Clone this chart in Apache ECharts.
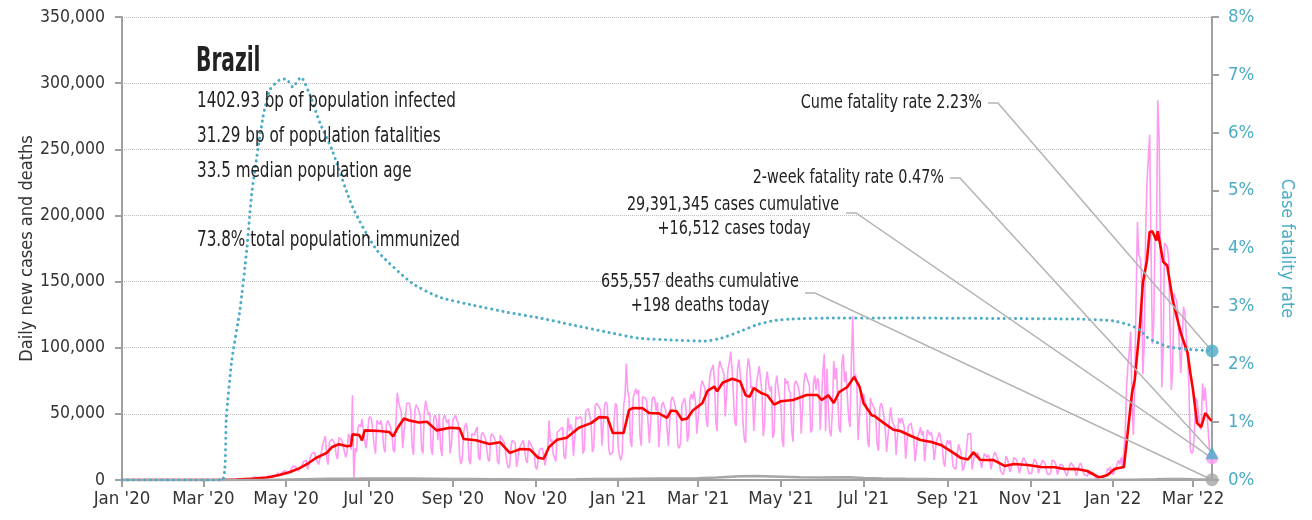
<!DOCTYPE html>
<html>
<head>
<meta charset="utf-8">
<script src="https://cdn.jsdelivr.net/npm/echarts@6/dist/echarts.min.js"></script>
<style>
  html, body { margin: 0; padding: 0; background: #fff; }
  #chart { width: 1312px; height: 520px; }
</style>
</head>
<body>
<div id="chart"></div>
<script>
// ---- Brazil COVID-19: daily cases, 7-day average, deaths and case fatality rate ----

const countryName = 'Brazil';
const statLines = [
  '1402.93 bp of population infected',
  '31.29 bp of population fatalities',
  '33.5 median population age',
  '',
  '73.8% total population immunized'
];

const axisStart = '2020-01-01';
const axisEnd = '2022-03-15';
const tickDates = ['2020-01-01','2020-03-01','2020-05-01','2020-07-01','2020-09-01','2020-11-01',
  '2021-01-01','2021-03-01','2021-05-01','2021-07-01','2021-09-01','2021-11-01','2022-01-01','2022-03-01'];
const monthNames = ['Jan','Feb','Mar','Apr','May','Jun','Jul','Aug','Sep','Oct','Nov','Dec'];

// Daily new cases, in thousands, one row per week (Sun..Sat) starting 2020-03-01
const dailyStart = '2020-03-01';
const dailyCasesK = [
  0.001,0,0,0.001,0.001,0.004,0.006,
  0.006,0.005,0.009,0.018,0.025,0.021,0.023,
  0.079,0.034,0.057,0.137,0.193,0.283,0.224,
  0.418,0.345,0.310,0.232,0.482,0.502,0.487,
  0.352,0.323,1.138,1.119,1.074,1.146,1.222,
  0.852,0.926,1.661,2.210,1.930,1.781,1.089,
  1.442,1.261,1.832,3.058,2.105,3.257,2.917,
  2.055,1.927,2.498,2.678,3.735,3.503,5.514,
  3.379,4.613,5.385,6.276,7.218,6.209,4.970,
  4.588,6.633,6.935,10.503,9.888,10.222,10.611,
  6.760,5.632,9.258,11.385,13.944,15.305,14.919,
  7.938,13.140,17.408,19.951,18.508,20.803,16.508,
  15.813,11.687,16.324,20.599,26.417,26.928,33.274,
  16.409,11.598,28.936,28.633,30.925,30.830,27.075,
  18.912,15.654,32.091,32.913,30.412,25.982,21.704,
  17.1,20.6,34.9,32.2,22.8,64.0,0.4,
  24,21,39,42,40,46,38,
  30,24,33,46,48,46,37,
  26,20,45,44,42,45,39,
  25,21,42,45,46,40,36,
  23,21,41,66,59,55,51,
  24,23,47,58,57,58,52,
  25,19,52,57,55,52,49,
  23,20,52,60,54,49,51,
  24,19,47,49,45,30,50,
  24,18,47,49,45,43,46,
  20,27,45,46,49,45,43,
  18,12,16,36,41,43,35,
  15,12,35,36,34,38,40,
  17,15,34,36,34,32,31,
  16,14,33,35,33,31,28,
  14,12,34,34,30,28,27,
  13,9,11,26,30,29,28,
  10,15,24,26,28,30,29,
  15,13,30,28,27,24,20,
  10,8,8,23,24,24,18,
  11,10,23,45,29,31,20,
  17,14,36,35,38,37,40,
  18,16,31,47,37,42,38,
  18,19,48,46,47,48,46,
  20,23,52,51,54,53,43,
  21,25,56,58,58,55,53,
  26,26,57,59,56,24,19,
  19,21,46,58,56,26,18,
  15,20,56,63,88,68,62,
  29,25,62,61,69,65,68,
  34,26,63,64,62,60,59,
  28,28,61,63,61,52,59,
  25,26,56,59,56,53,52,
  26,26,60,63,60,56,50,
  26,24,28,57,57,62,54,
  29,34,62,65,61,67,59,
  35,35,59,71,75,74,69,
  45,40,72,81,80,87,76,
  44,37,84,90,86,85,80,
  48,49,84,89,97,84,85,
  44,41,84,91,90,70,45,
  31,28,82,92,86,69,71,
  37,38,73,73,86,85,67,
  33,43,75,82,72,67,71,
  32,35,72,79,69,68,56,
  30,25,77,73,75,68,66,
  37,29,72,75,76,70,63,
  35,35,74,81,78,78,71,
  36,38,73,79,68,77,74,
  38,37,83,95,37,84,55,
  37,33,52,90,76,85,60,
  39,36,88,95,74,82,82,
  46,40,90,124,78,80,73,
  30,30,66,63,65,60,56,
  29,25,62,58,58,54,48,
  27,22,55,58,55,48,38,
  21,20,45,55,45,42,40,
  19,20,47,43,47,44,40,
  16,17,41,40,43,42,32,
  14,14,33,36,40,34,37,
  14,13,38,37,34,36,30,
  15,14,31,33,36,30,27,
  13,10,27,30,27,30,21,
  10,9,8,19,27,26,20,
  7,9,14,15,35,36,35,
  8,7,20,17,21,18,16,
  9,8,20,21,17,19,16,
  8,7,19,21,18,18,13,
  7,6,4,9,18,16,12,
  6,5,13,17,16,15,16,
  5,5,14,17,16,13,13,
  5,5,5,12,16,16,12,
  5,4,12,15,14,12,6,
  4,3,5,15,15,14,11,
  4,4,12,12,11,10,5,
  3,3,11,13,12,10,7,
  3,4,11,13,10,6,4,
  3,3,6,4,5,6,4,
  2,1,1,2,3,3,2,
  3,4,9,7,10,6,4,
  3,8,12,15,12,17,10,
  10,35,70,87,97,112,60,
  34,70,137,195,170,168,156,
  80,103,184,224,225,261,178,
  103,118,185,182,287,257,170,
  70,100,179,180,176,168,118,
  68,85,141,142,135,122,100,
  81,82,131,126,110,92,70,
  23,20,22,35,62,60,50,
  40,38,73,60,70,55,40,
  25,20,16.512
];

// 7-day average of new cases, in thousands
const avgCasesK = [
  ['2020-01-01',0],['2020-03-10',0.02],['2020-03-25',0.3],['2020-04-05',0.9],['2020-04-17',1.9],
  ['2020-04-26',3.8],['2020-05-04',6],['2020-05-11',9],['2020-05-18',13],['2020-05-23',16.6],
  ['2020-05-31',20.5],['2020-06-04',25],['2020-06-09',27],['2020-06-15',25.5],['2020-06-18',26],
  ['2020-06-19',34.5],['2020-06-24',34],['2020-06-26',30],['2020-06-28',37.5],['2020-07-09',37],
  ['2020-07-16',36.3],['2020-07-19',33],['2020-07-23',40.5],['2020-07-27',46.5],['2020-07-31',45],
  ['2020-08-07',43.5],['2020-08-13',44],['2020-08-20',37.5],['2020-08-30',39.5],['2020-09-06',39],
  ['2020-09-09',31],['2020-09-18',30],['2020-09-28',27.2],['2020-10-06',28.5],['2020-10-13',20.5],
  ['2020-10-21',23.4],['2020-10-28',23],['2020-11-03',16.8],['2020-11-07',16],['2020-11-11',25],
  ['2020-11-17',30.5],['2020-11-24',32],['2020-12-03',39.5],['2020-12-12',43],['2020-12-18',47.5],
  ['2020-12-24',47.3],['2020-12-28',35.5],['2021-01-05',35.5],['2021-01-09',53],['2021-01-12',54.4],
  ['2021-01-19',54.2],['2021-01-24',50.6],['2021-01-31',50.4],['2021-02-06',47],['2021-02-09',52.6],
  ['2021-02-13',52],['2021-02-17',45.5],['2021-02-21',46.5],['2021-02-25',52.5],['2021-03-04',58],
  ['2021-03-08',67.5],['2021-03-13',70.5],['2021-03-15',67],['2021-03-19',73.5],['2021-03-26',76.5],
  ['2021-04-01',74.5],['2021-04-05',64],['2021-04-08',63],['2021-04-11',69.5],['2021-04-16',66],
  ['2021-04-21',64],['2021-04-26',57],['2021-05-01',59.5],['2021-05-10',60.5],['2021-05-20',64.2],
  ['2021-05-28',64.2],['2021-05-31',60.5],['2021-06-05',64],['2021-06-09',58.2],['2021-06-13',66.5],
  ['2021-06-19',70.3],['2021-06-24',77.9],['2021-06-28',70.5],['2021-07-01',58],['2021-07-07',49],
  ['2021-07-09',48.4],['2021-07-16',43],['2021-07-23',38],['2021-07-28',37],['2021-08-05',33.3],
  ['2021-08-12',30.2],['2021-08-20',28.7],['2021-08-27',26.5],['2021-09-03',22],['2021-09-11',16.6],
  ['2021-09-16',15.5],['2021-09-20',21],['2021-09-25',15.3],['2021-10-05',15],['2021-10-13',10.6],
  ['2021-10-20',12.1],['2021-10-30',11.3],['2021-11-09',9.8],['2021-11-19',9.6],['2021-11-26',8.3],
  ['2021-12-06',8.2],['2021-12-13',6.8],['2021-12-21',2.3],['2021-12-24',2.4],['2021-12-28',3.8],
  ['2022-01-02',8.3],['2022-01-09',9.8],['2022-01-11',28],['2022-01-15',65.8],['2022-01-17',75.6],
  ['2022-01-21',118.7],['2022-01-23',149],['2022-01-26',166],['2022-01-28',187.5],['2022-01-30',188],
  ['2022-02-02',181],['2022-02-03',188],['2022-02-07',165],['2022-02-10',162],['2022-02-14',136],
  ['2022-02-20',111],['2022-02-25',96],['2022-02-27',81],['2022-03-01',68],['2022-03-04',43],
  ['2022-03-07',40],['2022-03-10',50.6],['2022-03-14',45.4],['2022-03-15',45]
];

// 7-day average of new deaths, in thousands
const avgDeathsK = [
  ['2020-01-01',0],['2020-03-17',0],['2020-04-01',0.04],['2020-04-15',0.16],['2020-05-01',0.35],
  ['2020-05-15',0.65],['2020-06-01',0.9],['2020-06-15',1.0],['2020-07-01',1.05],['2020-07-15',1.05],
  ['2020-08-01',1.05],['2020-08-15',0.98],['2020-09-01',0.85],['2020-09-15',0.75],['2020-10-01',0.65],
  ['2020-10-15',0.55],['2020-11-01',0.42],['2020-11-15',0.4],['2020-12-01',0.5],['2020-12-15',0.68],
  ['2021-01-01',0.72],['2021-01-15',1.0],['2021-02-01',1.05],['2021-02-15',1.05],['2021-03-01',1.25],
  ['2021-03-15',1.9],['2021-04-01',2.8],['2021-04-12',3.1],['2021-05-01',2.5],['2021-05-15',2.0],
  ['2021-06-01',1.8],['2021-06-20',2.0],['2021-07-01',1.6],['2021-07-15',1.2],['2021-08-01',0.95],
  ['2021-08-15',0.85],['2021-09-01',0.65],['2021-09-15',0.55],['2021-10-01',0.5],['2021-10-15',0.38],
  ['2021-11-01',0.27],['2021-11-15',0.23],['2021-12-01',0.2],['2021-12-15',0.11],['2022-01-01',0.1],
  ['2022-01-15',0.2],['2022-02-01',0.55],['2022-02-10',0.85],['2022-02-20',0.8],['2022-03-01',0.55],
  ['2022-03-15',0.45]
];

// Cumulative case fatality rate, percent
const caseFatalityPct = [
  ['2020-01-01',0],['2020-03-15',0],['2020-03-18',1.09],['2020-03-22',2.07],['2020-03-28',2.94],
  ['2020-04-02',3.97],['2020-04-06',5.01],['2020-04-14',6.27],['2020-04-19',6.74],['2020-04-26',6.91],
  ['2020-05-01',6.93],['2020-05-06',6.79],['2020-05-12',6.96],['2020-05-18',6.69],['2020-05-26',6.17],
  ['2020-06-04',5.70],['2020-06-19',4.72],['2020-07-07',3.97],['2020-08-02',3.40],['2020-08-22',3.16],
  ['2020-09-16',3.02],['2020-10-11',2.90],['2020-11-04',2.80],['2020-11-28',2.68],['2020-12-23',2.56],
  ['2021-01-16',2.45],['2021-02-09',2.42],['2021-03-06',2.40],['2021-03-18',2.45],['2021-03-31',2.56],
  ['2021-04-13',2.68],['2021-04-25',2.75],['2021-05-07',2.78],['2021-06-13',2.80],['2021-07-13',2.80],
  ['2021-12-07',2.78],['2022-01-01',2.75],['2022-01-13',2.68],['2022-01-21',2.59],['2022-01-26',2.47],
  ['2022-02-02',2.38],['2022-02-11',2.30],['2022-02-24',2.26],['2022-03-15',2.23]
];

const twoWeekFatalityPct = 0.47;
const casesCumulative = 29391345;
const deathsCumulative = 655557;
const deathsToday = 198;

// ---- styling ----
const FONT = '"DejaVu Sans Condensed", "Liberation Sans Narrow", "Roboto Condensed", Roboto, sans-serif';
const PINK = '#FF99F2', RED = '#FF0000', TEAL = '#4BACC6', GRAY = '#A6A6A6', AXIS = '#A0A0A0', INK = '#222';

function ts(s) {
  const p = s.split('-').map(Number);
  return new Date(p[0], p[1] - 1, p[2]).getTime();
}
const fmt = n => Math.round(n).toLocaleString('en-US');

const startDate = new Date(ts(dailyStart));
const dailyData = dailyCasesK.map((v, i) =>
  [new Date(startDate.getFullYear(), startDate.getMonth(), startDate.getDate() + i).getTime(), Math.round(v * 1000)]);
const avgCasesData = avgCasesK.map(p => [ts(p[0]), p[1] * 1000]);
const avgDeathsData = avgDeathsK.map(p => [ts(p[0]), p[1] * 1000]);
const cfrData = caseFatalityPct.map(p => [ts(p[0]), p[1]]);

const lastDay = dailyData[dailyData.length - 1][0];
const casesToday = dailyData[dailyData.length - 1][1];
const cfrLast = caseFatalityPct[caseFatalityPct.length - 1][1];
const tickTs = tickDates.map(ts);

const chart = echarts.init(document.getElementById('chart'), null, { renderer: 'canvas' });

// The date axis is a plain value axis over timestamps, so the month ticks can be placed exactly.
chart.setOption({
  animation: false,
  backgroundColor: '#fff',
  textStyle: { fontFamily: FONT },
  grid: { left: 122, right: 100, top: 17, bottom: 40, containLabel: false, outerBoundsMode: 'none' },
  xAxis: {
    type: 'value',
    min: ts(axisStart),
    max: ts(axisEnd),
    axisLine: { lineStyle: { color: AXIS, width: 2 } },
    axisTick: { show: true, customValues: tickTs, length: 7, lineStyle: { color: AXIS, width: 2 } },
    axisLabel: {
      customValues: tickTs,
      formatter: v => { const d = new Date(v); return monthNames[d.getMonth()] + " '" + String(d.getFullYear()).slice(2); },
      color: '#333', fontSize: 18.5, fontFamily: FONT, margin: 10
    },
    splitLine: { show: false }
  },
  yAxis: [
    {
      type: 'value', position: 'left', min: 0, max: 350000, interval: 50000,
      name: 'Daily new cases and deaths', nameLocation: 'middle', nameGap: 86, nameMoveOverlap: false,
      nameTextStyle: { color: '#333', fontSize: 18, fontFamily: FONT },
      axisLine: { show: true, lineStyle: { color: AXIS, width: 2 } },
      axisTick: { show: true, length: 7, lineStyle: { color: AXIS, width: 2 } },
      axisLabel: { formatter: v => fmt(v), color: '#333', fontSize: 17.5, fontFamily: FONT, margin: 17 },
      splitLine: { show: true, lineStyle: { type: 'dotted', color: '#BDBDBD', width: 1 } }
    },
    {
      type: 'value', position: 'right', min: 0, max: 8, interval: 1,
      name: 'Case fatality rate', nameLocation: 'middle', nameGap: 66, nameRotate: -90, nameMoveOverlap: false,
      nameTextStyle: { color: TEAL, fontSize: 18, fontFamily: FONT },
      axisLine: { show: true, lineStyle: { color: AXIS, width: 2 } },
      axisTick: { show: true, length: 7, lineStyle: { color: AXIS, width: 2 } },
      axisLabel: { formatter: '{value}%', color: TEAL, fontSize: 18.5, fontFamily: FONT, margin: 16 },
      splitLine: { show: false }
    }
  ],
  series: [
    {
      name: 'Daily new cases', type: 'line', data: dailyData, showSymbol: false, z: 2,
      lineStyle: { color: PINK, width: 1.6 }, emphasis: { disabled: true }
    },
    {
      name: 'Cases, 7-day average', type: 'line', data: avgCasesData, showSymbol: false, z: 3,
      lineStyle: { color: RED, width: 2.6 }, emphasis: { disabled: true }
    },
    {
      name: 'Deaths, 7-day average', type: 'line', data: avgDeathsData, showSymbol: false, z: 3,
      lineStyle: { color: GRAY, width: 2.5 }, emphasis: { disabled: true }
    },
    {
      name: 'Case fatality rate', type: 'line', yAxisIndex: 1, data: cfrData, showSymbol: false, z: 4,
      smooth: 0.2,
      lineStyle: { color: TEAL, width: 3, type: [0.1, 5.6], cap: 'round' }, emphasis: { disabled: true }
    },
    {
      type: 'scatter', yAxisIndex: 1, z: 10, symbol: 'circle', symbolSize: 13,
      itemStyle: { color: TEAL }, data: [[lastDay, cfrLast]]
    },
    {
      type: 'scatter', z: 9, symbol: 'circle', symbolSize: 12,
      itemStyle: { color: PINK }, data: [[lastDay, casesToday]]
    },
    {
      type: 'scatter', yAxisIndex: 1, z: 10, symbol: 'triangle', symbolSize: 13,
      itemStyle: { color: TEAL }, data: [[lastDay, twoWeekFatalityPct]]
    },
    {
      type: 'scatter', z: 10, symbol: 'circle', symbolSize: 13,
      itemStyle: { color: GRAY }, data: [[lastDay, deathsToday]]
    }
  ]
});

// ---- title block and call-outs with leader lines to the last values ----
const pxCases = chart.convertToPixel({ xAxisIndex: 0, yAxisIndex: 0 }, [lastDay, casesToday]);
const pxDeaths = chart.convertToPixel({ xAxisIndex: 0, yAxisIndex: 0 }, [lastDay, deathsToday]);
const pxCfr = chart.convertToPixel({ xAxisIndex: 0, yAxisIndex: 1 }, [lastDay, cfrLast]);
const pxTwoWeek = chart.convertToPixel({ xAxisIndex: 0, yAxisIndex: 1 }, [lastDay, twoWeekFatalityPct]);

// Text drawn in a narrow face: the glyphs are squeezed horizontally around the anchor point.
function label(text, x, y, align, size, weight, squeeze) {
  return {
    type: 'text', z: 20, silent: true, x, y, scaleX: squeeze || 0.8,
    style: {
      text, x: 0, y: 0, fill: INK, align: align || 'left', verticalAlign: 'middle',
      fontSize: size || 20, fontFamily: FONT, fontWeight: weight || 'normal'
    }
  };
}
function leader(x0, y0, target) {
  return {
    type: 'polyline', z: 8, silent: true,
    shape: { points: [[x0, y0], [x0 + 10, y0], [target[0], target[1]]] },
    style: { stroke: '#B4B4B4', lineWidth: 1.5, fill: null }
  };
}

const graphics = [
  label(countryName, 196, 62, 'left', 33, 'bold', 0.68),
  label(statLines[0], 197, 102, 'left', 21, 'normal', 0.805),
  label(statLines[1], 197, 137, 'left', 21, 'normal', 0.805),
  label(statLines[2], 197, 172, 'left', 21, 'normal', 0.805),
  label(statLines[4], 197, 241, 'left', 21, 'normal', 0.805),

  label('Cume fatality rate ' + cfrLast.toFixed(2) + '%', 982, 103, 'right'),
  leader(988, 103, pxCfr),

  label('2-week fatality rate ' + twoWeekFatalityPct.toFixed(2) + '%', 944, 178, 'right'),
  leader(950, 178, pxTwoWeek),

  label(fmt(casesCumulative) + ' cases cumulative', 733, 205, 'center'),
  label('+' + fmt(casesToday) + ' cases today', 734, 229, 'center'),
  leader(846, 213, pxCases),

  label(fmt(deathsCumulative) + ' deaths cumulative', 700, 282, 'center'),
  label('+' + fmt(deathsToday) + ' deaths today', 700, 306, 'center'),
  leader(805, 293, pxDeaths)
];

chart.setOption({ graphic: graphics });
</script>
</body>
</html>
